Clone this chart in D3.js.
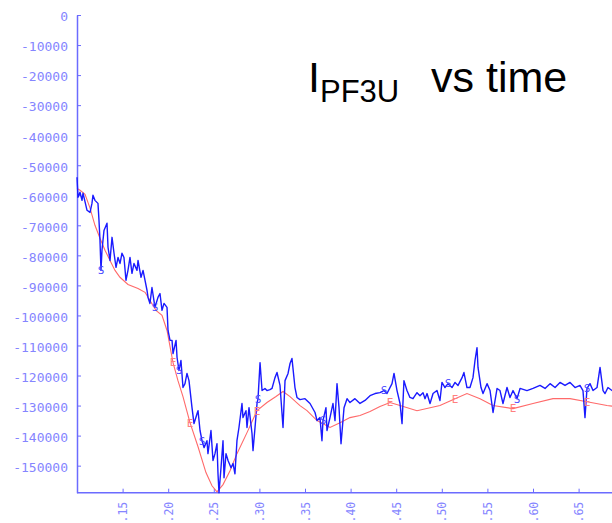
<!DOCTYPE html>
<meta charset="utf-8">
<head>
<style>
  body { margin: 0; background: #fff; }
  svg { display: block; }
</style>
</head>

<!-- Load d3.js -->
<script src="https://d3js.org/d3.v7.min.js"></script>

<body>
  <div id="chart"></div>
</body>

<script>

  // measured current (blue), time in s, current in A
  var measTime = [0.1000, 0.1011, 0.1033, 0.1055, 0.1066, 0.1110, 0.1143, 0.1164, 0.1175, 0.1197,
    0.1230, 0.1241, 0.1252, 0.1263, 0.1274, 0.1296, 0.1329, 0.1340, 0.1362, 0.1384,
    0.1406, 0.1428, 0.1450, 0.1472, 0.1493, 0.1515, 0.1537, 0.1559, 0.1581, 0.1603,
    0.1625, 0.1658, 0.1669, 0.1702, 0.1724, 0.1746, 0.1768, 0.1779, 0.1800, 0.1822,
    0.1855, 0.1888, 0.1910, 0.1932, 0.1954, 0.1987, 0.1998, 0.2020, 0.2042, 0.2053,
    0.2086, 0.2097, 0.2118, 0.2140, 0.2162, 0.2184, 0.2206, 0.2228, 0.2261, 0.2283,
    0.2316, 0.2327, 0.2349, 0.2371, 0.2393, 0.2425, 0.2436, 0.2469, 0.2491, 0.2513,
    0.2535, 0.2546, 0.2557, 0.2579, 0.2601, 0.2612, 0.2634, 0.2656, 0.2689, 0.2711,
    0.2732, 0.2754, 0.2776, 0.2809, 0.2820, 0.2853, 0.2864, 0.2886, 0.2919, 0.2930,
    0.2952, 0.2974, 0.2985, 0.3007, 0.3029, 0.3061, 0.3083, 0.3116, 0.3138, 0.3171,
    0.3193, 0.3226, 0.3259, 0.3281, 0.3314, 0.3336, 0.3357, 0.3390, 0.3412, 0.3445,
    0.3500, 0.3555, 0.3610, 0.3632, 0.3664, 0.3686, 0.3697, 0.3730, 0.3741, 0.3774,
    0.3807, 0.3829, 0.3851, 0.3873, 0.3895, 0.3928, 0.3961, 0.3993, 0.4048, 0.4103,
    0.4158, 0.4213, 0.4268, 0.4322, 0.4366, 0.4399, 0.4454, 0.4476, 0.4509, 0.4542,
    0.4564, 0.4585, 0.4618, 0.4651, 0.4684, 0.4728, 0.4761, 0.4794, 0.4816, 0.4838,
    0.4871, 0.4904, 0.4947, 0.4980, 0.5002, 0.5035, 0.5068, 0.5112, 0.5145, 0.5178,
    0.5222, 0.5243, 0.5276, 0.5309, 0.5342, 0.5364, 0.5386, 0.5397, 0.5430, 0.5452,
    0.5496, 0.5529, 0.5562, 0.5606, 0.5638, 0.5671, 0.5715, 0.5748, 0.5781, 0.5825,
    0.5858, 0.5934, 0.6000, 0.6077, 0.6132, 0.6187, 0.6242, 0.6296, 0.6351, 0.6406,
    0.6461, 0.6515, 0.6548, 0.6570, 0.6592, 0.6625, 0.6658, 0.6702, 0.6735, 0.6768,
    0.6790, 0.6822, 0.6866, 0.6899];
  var measCurrent = [-54000, -60700, -59000, -61700, -59300, -65000, -65700, -62700, -60000, -61700,
    -62700, -68300, -75000, -85000, -78300, -71700, -69300, -77300, -81700, -74000,
    -79300, -84000, -80700, -82700, -79300, -80700, -88300, -85000, -80700, -86000,
    -82700, -85000, -81700, -87300, -85000, -88300, -91700, -94000, -96000, -90700,
    -97300, -94000, -92700, -98300, -96000, -97300, -105000, -108300, -108300, -112700,
    -108300, -114000, -118300, -115000, -124000, -122700, -119300, -121700, -130700, -136000,
    -132700, -131700, -138300, -141700, -144000, -141700, -146000, -138300, -148300, -146000,
    -142700, -152700, -159000, -150700, -141700, -154000, -146000, -148300, -150700, -149300,
    -152700, -141700, -137300, -129300, -134000, -131700, -137300, -130700, -139300, -145000,
    -137300, -129300, -127700, -115700, -125000, -124300, -125000, -124700, -124300, -120700,
    -119000, -123300, -137300, -121700, -119300, -116000, -114300, -124000, -127300, -128000,
    -127700, -129300, -132300, -135000, -134000, -141700, -135000, -130700, -138300, -134000,
    -129300, -135000, -122700, -130700, -142700, -130700, -127700, -129000, -127700, -129300,
    -128300, -126700, -126000, -125700, -125000, -126000, -122700, -119300, -125000, -129300,
    -136000, -121700, -125000, -127300, -127700, -125700, -126700, -125700, -127700, -126000,
    -129300, -126000, -125000, -128300, -122300, -124000, -122700, -124000, -122300, -123300,
    -120700, -119000, -124000, -124000, -120700, -115000, -110700, -117300, -124000, -126000,
    -122700, -125000, -132300, -124300, -125000, -129300, -124000, -127300, -125000, -127700,
    -124300, -125000, -124300, -123300, -124300, -122700, -124000, -122300, -123300, -122300,
    -124000, -123300, -125000, -134000, -124300, -122700, -125000, -124000, -117300, -125000,
    -126000, -124000, -125000, -124300];

  // reconstructed current (red)
  var fitTime = [0.1000, 0.1033, 0.1088, 0.1143, 0.1197, 0.1252, 0.1307, 0.1362, 0.1417, 0.1471,
    0.1559, 0.1669, 0.1746, 0.1800, 0.1866, 0.1932, 0.1987, 0.2053, 0.2107, 0.2162,
    0.2239, 0.2327, 0.2414, 0.2480, 0.2535, 0.2601, 0.2678, 0.2754, 0.2864, 0.2974,
    0.3083, 0.3182, 0.3259, 0.3336, 0.3445, 0.3522, 0.3632, 0.3774, 0.3884, 0.3993,
    0.4103, 0.4213, 0.4322, 0.4432, 0.4542, 0.4728, 0.4980, 0.5145, 0.5276, 0.5419,
    0.5561, 0.5781, 0.6000, 0.6219, 0.6406, 0.6592, 0.6811, 0.6899];
  var fitCurrent = [-57700, -58300, -59700, -64300, -70000, -74300, -78300, -81700, -85000, -87300,
    -89700, -91000, -92300, -95000, -98300, -100000, -105000, -115700, -121700, -127000,
    -135700, -143700, -152300, -156700, -158700, -156300, -151700, -146000, -139000, -131700,
    -129000, -127000, -125300, -127000, -130000, -131700, -135000, -137300, -135700, -134000,
    -133300, -132000, -130300, -129000, -130000, -131700, -130000, -127700, -126000, -127700,
    -130000, -131000, -129300, -127700, -127700, -128700, -130000, -130300];

  // where the little symbol letters sit along each trace
  var measMarkTimes = [0.1263, 0.1855, 0.2118, 0.2371, 0.2985, 0.3697, 0.4366, 0.5068, 0.5825, 0.6592];
  var fitMarkTimes = [0.2053, 0.2239, 0.2974, 0.4432, 0.5145, 0.5861, 0.6592];

  var xTicks = [0.15, 0.20, 0.25, 0.30, 0.35, 0.40, 0.45, 0.50, 0.55, 0.60, 0.65];
  var yTicks = [0, -10000, -20000, -30000, -40000, -50000, -60000, -70000, -80000,
    -90000, -100000, -110000, -120000, -130000, -140000, -150000];

  var W = 612, H = 523;
  var plotLeft = 77, plotTop = 15, plotBottom = 492.7;

  var svg = d3.select("#chart").append("svg")
    .attr("width", W).attr("height", H);

  var x = d3.scaleLinear().domain([0.10, 0.69]).range([plotLeft, plotLeft + 0.59 * 912]);
  var y = d3.scaleLinear().domain([-159000, 0]).range([plotBottom, plotTop]);

  var axisColor = "#6b6bff", labelColor = "#8585ff";
  var monoFont = "'DejaVu Sans Mono', 'Liberation Mono', monospace";

  // Y axis: ticks point into the plot
  var yAxis = svg.append("g")
    .attr("transform", "translate(" + plotLeft + ",0)")
    .call(d3.axisLeft(y).tickValues(yTicks).tickSizeInner(-4).tickSizeOuter(0).tickPadding(9)
      .tickFormat(function(d) { return String(d); }));
  yAxis.select(".domain").attr("stroke", axisColor).attr("stroke-width", 1.5);
  yAxis.selectAll(".tick line").attr("stroke", axisColor);
  yAxis.selectAll("text")
    .attr("fill", labelColor)
    .attr("dy", "0.45em")
    .style("font-family", monoFont)
    .style("font-size", "13px");

  // X axis with rotated labels
  var xAxis = svg.append("g")
    .attr("transform", "translate(0," + plotBottom + ")")
    .call(d3.axisBottom(x).tickValues(xTicks).tickSizeInner(-4).tickSizeOuter(0)
      .tickFormat(function(d) { return d3.format(".2f")(d).replace(/^0/, ""); }));
  xAxis.select(".domain").attr("stroke", axisColor).attr("stroke-width", 1.5)
    .attr("d", "M" + plotLeft + ",0H" + W);
  xAxis.selectAll(".tick line").attr("stroke", axisColor);
  xAxis.selectAll("text")
    .attr("fill", labelColor)
    .attr("transform", "rotate(-90)")
    .attr("text-anchor", "end")
    .attr("x", -9)
    .attr("y", 0)
    .attr("dy", "0.35em")
    .style("font-family", monoFont)
    .style("font-size", "11.5px");

  var measData = measTime.map(function(t, i) { return [t, measCurrent[i]]; });
  var fitData = fitTime.map(function(t, i) { return [t, fitCurrent[i]]; });

  var line = d3.line()
    .x(function(d) { return x(d[0]); })
    .y(function(d) { return y(d[1]); });

  var plot = svg.append("g");

  plot.append("path")
    .datum(fitData)
    .attr("fill", "none")
    .attr("stroke", "#ff6a6a")
    .attr("stroke-width", 1.1)
    .attr("d", line);

  plot.append("path")
    .datum(measData)
    .attr("fill", "none")
    .attr("stroke", "#1a1aff")
    .attr("stroke-width", 1.4)
    .attr("stroke-linejoin", "round")
    .attr("d", line);

  // symbol letters on the traces
  var bis = d3.bisector(function(d) { return d[0]; }).center;
  function markers(data, times, letter, color) {
    plot.selectAll(null)
      .data(times.map(function(t) { return data[bis(data, t)]; }))
      .enter().append("text")
      .attr("x", function(d) { return x(d[0]); })
      .attr("y", function(d) { return y(d[1]); })
      .attr("dy", "0.35em")
      .attr("text-anchor", "middle")
      .attr("fill", color)
      .style("font-family", monoFont)
      .style("font-size", "11px")
      .text(letter);
  }
  markers(fitData, fitMarkTimes, "E", "#ff8080");
  markers(measData, measMarkTimes, "S", "#4a4aff");

  // title
  var title = svg.append("text")
    .attr("x", 308).attr("y", 92)
    .attr("fill", "#000")
    .style("font-family", "'Liberation Sans', Arial, sans-serif")
    .style("font-size", "43px");
  title.append("tspan").text("I");
  title.append("tspan").attr("dy", 10).style("font-size", "31px").text("PF3U");
  title.append("tspan").attr("x", 431).attr("dy", -10).text("vs time");

</script>
